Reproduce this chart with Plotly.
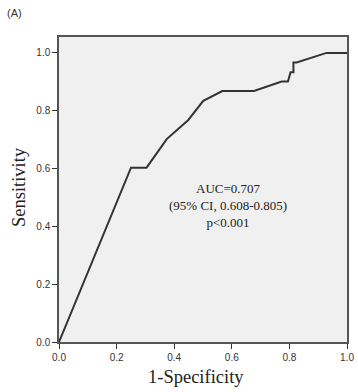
import plotly.graph_objects as go

fpr = [0.0, 0.25, 0.304, 0.374, 0.449, 0.501, 0.567, 0.677, 0.773, 0.795, 0.804, 0.814, 0.814, 0.825, 0.929, 1.0]
tpr = [0.0, 0.603, 0.603, 0.702, 0.768, 0.834, 0.868, 0.868, 0.901, 0.901, 0.933, 0.933, 0.967, 0.967, 1.0, 1.0]
tick_vals = [0.0, 0.2, 0.4, 0.6, 0.8, 1.0]
tick_text = ["0.0", "0.2", "0.4", "0.6", "0.8", "1.0"]
annotation_lines = ["AUC=0.707", "(95% CI, 0.608-0.805)", "p<0.001"]

# plot-area geometry in pixels
L, R, T, B = 59, 11, 37, 50
W, H = 358, 392
pw, ph = W - L - R, H - T - B

def px(x):
    return (x - L) / pw

def py(y):
    return (H - B - y) / ph

fig = go.Figure()
fig.add_trace(go.Scatter(x=fpr, y=tpr, mode="lines",
                         line=dict(color="#333333", width=2), showlegend=False, hoverinfo="skip"))

axis_common = dict(
    showgrid=False, zeroline=False, showline=True, linecolor="#555555", linewidth=1.5,
    mirror=True, ticks="outside", ticklen=5, tickcolor="#333333", tickwidth=1,
    tickvals=tick_vals, ticktext=tick_text, automargin=False,
    tickfont=dict(family="Liberation Sans, Arial", size=10, color="#333333"),
)

serif = dict(family="Liberation Serif, Times New Roman", size=18.5, color="#222222")

fig.update_layout(
    template="none",
    width=W, height=H,
    margin=dict(l=L, r=R, t=T, b=B),
    paper_bgcolor="white", plot_bgcolor="#f0f0f0",
    xaxis=dict(range=[0, 1.0], **axis_common),
    yaxis=dict(range=[0, 1.055], **axis_common),
    annotations=[
        dict(x=px(228), y=py(205), xref="paper", yref="paper", text="<br>".join(annotation_lines), showarrow=False,
             xanchor="center", yanchor="middle",
             font=dict(family="Liberation Serif, Times New Roman", size=13, color="#222222"), align="center"),
        dict(x=px(5), y=py(13), xref="paper", yref="paper", text="(A)", showarrow=False,
             xanchor="left", yanchor="middle",
             font=dict(family="Liberation Sans, Arial", size=11, color="#333333")),
        dict(x=px(196), y=py(377), xref="paper", yref="paper", text="1-Specificity", showarrow=False,
             xanchor="center", yanchor="middle", font=serif),
        dict(x=px(19), y=py(187), xref="paper", yref="paper", text="Sensitivity", showarrow=False,
             xanchor="center", yanchor="middle", textangle=-90, font=serif),
    ],
)
fig.write_html("out.html", config={"displayModeBar": False})

with open("out.html", "r", encoding="utf-8") as f:
    html = f.read()
html = html.replace("<head>", "<head><style>html,body{margin:0;padding:0;overflow:hidden;}</style>", 1)
with open("out.html", "w", encoding="utf-8") as f:
    f.write(html)
